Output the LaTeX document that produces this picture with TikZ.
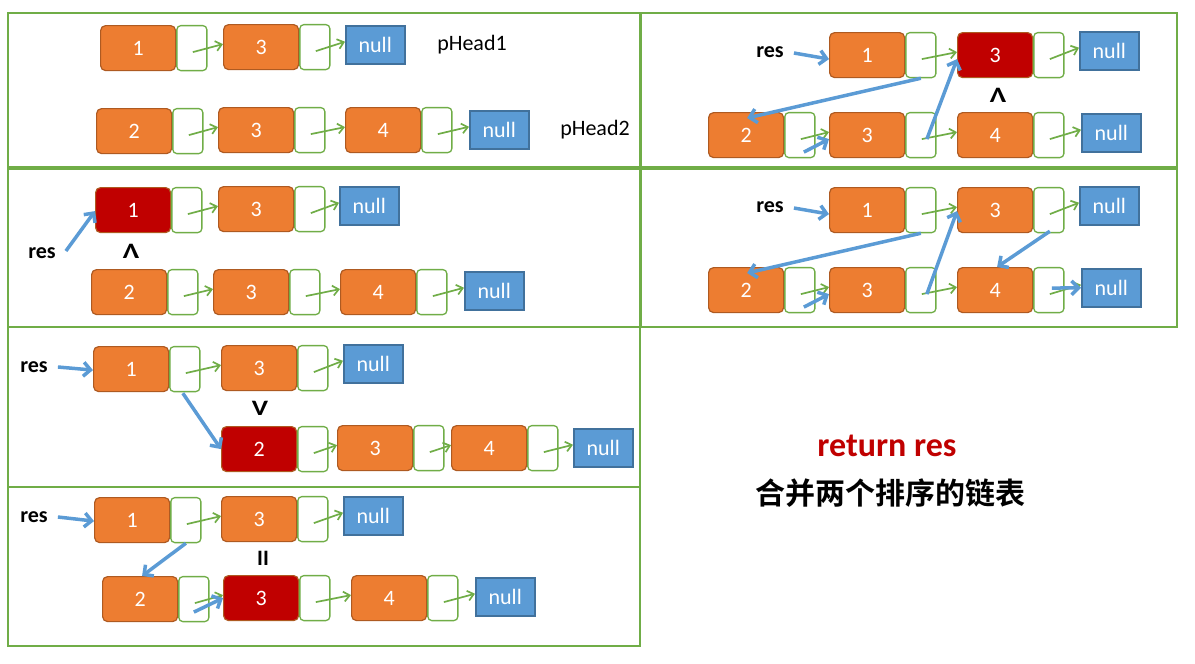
\documentclass[tikz,border=0pt]{standalone}
\usepackage{fontspec}
\setmainfont{Carlito}
\newfontfamily\cjk{Noto Sans CJK SC}[BoldFont={Noto Sans CJK SC Bold}]
\usetikzlibrary{arrows.meta,calc}
\definecolor{org}{HTML}{ED7D31}
\definecolor{orgd}{HTML}{AE5A21}
\definecolor{dred}{HTML}{C00000}
\definecolor{nblue}{HTML}{5B9BD5}
\definecolor{nblued}{HTML}{41719C}
\definecolor{grn}{HTML}{70AD47}
\tikzset{
 dat/.style={draw=orgd, fill=org, line width=1.2pt, rounded corners=5pt, minimum width=75pt, minimum height=45pt, inner sep=0pt, text=white, font=\fontsize{22}{22}\selectfont},
 datr/.style={dat, fill=dred},
 ptrbox/.style={draw=grn, fill=white, line width=1.3pt, rounded corners=4pt, minimum width=30pt, minimum height=45pt, inner sep=0pt},
 nullbox/.style={draw=nblued, fill=nblue, line width=1.5pt, minimum width=59pt, minimum height=38pt, inner sep=0pt, text=white, font=\fontsize{22}{22}\selectfont},
 garr/.style={draw=grn, line width=1.7pt, -{Straight Barb[length=6pt,width=10pt]}},
 barr/.style={draw=nblue, line width=3.5pt, -{Straight Barb[length=7pt,width=14pt]}},
 lbl/.style={font=\fontsize{22}{22}\selectfont, inner sep=0pt},
 reslbl/.style={font=\bfseries\fontsize{22}{22}\selectfont, inner sep=0pt},
 cmp/.style={font=\bfseries\fontsize{22}{22}\selectfont, inner sep=0pt},
 panel/.style={draw=grn, line width=2pt},
}
\newcommand\llcell[5]{\node[#5,anchor=north west] (#1) at (#2,#3) {#4}; \node[ptrbox,anchor=west] (#1p) at (#1.east) {};}
\newcommand\llnull[3]{\node[nullbox,anchor=north west] (#1) at (#2,#3) {null};}
\newcommand\glink[2]{\draw[garr] ($(#1p.center)+(1,4)$) -- ($(#2.west)+(0,-3)$);}
\begin{document}
\begin{tikzpicture}[x=1pt,y=-1pt]
\useasboundingbox (0,0) rectangle (1195,664);
% panels
\draw[panel] (8,13) rectangle (640,167);
\draw[panel] (641,13) rectangle (1177,167);
\draw[panel] (8,169) rectangle (640,327);
\draw[panel] (641,169) rectangle (1177,327);
\draw[panel] (8,327) rectangle (640,487);
\draw[panel] (8,487) rectangle (640,646);
% panel 1
\llcell{a1}{100}{25}{1}{dat}
\llcell{a3}{223}{24}{3}{dat}
\llnull{an}{345}{25}
\node[lbl] (ph1) at (472,45) {pHead1};
\llcell{b2}{96}{108}{2}{dat}
\llcell{b3}{218}{107}{3}{dat}
\llcell{b4}{345}{107}{4}{dat}
\llnull{bn}{469}{110}
\node[lbl] (ph2) at (595,130) {pHead2};
\glink{a1}{a3} \glink{a3}{an} \glink{b2}{b3} \glink{b3}{b4} \glink{b4}{bn}
% panel 2
\node[reslbl] (r2) at (770,52) {res};
\llcell{c1}{829}{32}{1}{dat}
\llcell{c3}{957}{32}{3}{datr}
\llnull{cn}{1079}{31}
\llcell{d2}{708}{112}{2}{dat}
\llcell{d3}{829}{112}{3}{dat}
\llcell{d4}{957}{112}{4}{dat}
\llnull{dn}{1081}{113}
\node[cmp,xscale=1.25] (q2) at (998,95) {Λ};
\glink{c1}{c3} \glink{c3}{cn} \glink{d2}{d3} \glink{d3}{d4} \glink{d4}{dn}
\draw[barr] ($(r2.east)+(10,1)$) -- ($(c1.west)+(0,4)$);
\draw[barr] (c1p.south) -- ($(d2.north)+(1,6)$);
\draw[barr] ($(d3p.center)+(6,4)$) -- ($(c3.west)+(0,4)$);
\draw[barr] ($(d2p.center)+(4,17)$) -- ($(d3.west)+(0,4)$);
% panel 3
\llcell{e1}{95}{187}{1}{datr}
\llcell{e3}{218}{186}{3}{dat}
\llnull{en}{339}{186}
\node[reslbl] (r3) at (42,253) {res};
\node[cmp,xscale=1.25] (q3) at (131,251) {Λ};
\llcell{f2}{91}{269}{2}{dat}
\llcell{f3}{213}{269}{3}{dat}
\llcell{f4}{340}{269}{4}{dat}
\llnull{fn}{464}{271}
\glink{e1}{e3} \glink{e3}{en} \glink{f2}{f3} \glink{f3}{f4} \glink{f4}{fn}
\draw[barr] ($(r3.east)+(10,-2)$) -- ($(e1.west)+(0,1)$);
% panel 4
\node[reslbl] (r4) at (770,207) {res};
\llcell{g1}{829}{187}{1}{dat}
\llcell{g3}{957}{187}{3}{dat}
\llnull{gn}{1079}{186}
\llcell{h2}{708}{267}{2}{dat}
\llcell{h3}{829}{267}{3}{dat}
\llcell{h4}{957}{267}{4}{dat}
\llnull{hn}{1081}{268}
\glink{g1}{g3} \glink{g3}{gn} \glink{h2}{h3} \glink{h3}{h4} \glink{h4}{hn}
\draw[barr] ($(r4.east)+(10,1)$) -- ($(g1.west)+(0,4)$);
\draw[barr] (g1p.south) -- ($(h2.north)+(1,6)$);
\draw[barr] ($(h3p.center)+(6,4)$) -- ($(g3.west)+(0,1)$);
\draw[barr] ($(h2p.center)+(4,17)$) -- ($(h3.west)+(0,4)$);
\draw[barr] ($(g3p.south)+(1,-2)$) -- ($(h4.north)+(2,0)$);
\draw[barr] ($(h4p.center)+(3,-2)$) -- (hn.west);
% panel 5
\node[reslbl] (r5) at (34,367) {res};
\llcell{i1}{93}{346}{1}{dat}
\llcell{i3}{221}{345}{3}{dat}
\llnull{inul}{343}{344}
\node[cmp,xscale=1.25] (q5) at (260,408) {V};
\llcell{j2}{221}{426}{2}{datr}
\llcell{j3}{337}{425}{3}{dat}
\llcell{j4}{451}{425}{4}{dat}
\llnull{jn}{573}{428}
\glink{i1}{i3} \glink{i3}{inul} \glink{j2}{j3} \glink{j3}{j4} \glink{j4}{jn}
\draw[barr] ($(r5.east)+(10,0)$) -- ($(i1.west)+(0,1)$);
\draw[barr] ($(i1p.south)+(-2,1)$) -- (j2.west);
% panel 6
\node[reslbl] (r6) at (34,517) {res};
\llcell{k1}{94}{497}{1}{dat}
\llcell{k3}{221}{496}{3}{dat}
\llnull{kn}{343}{496}
\node[cmp] (q6) at (263,558) {II};
\llcell{l2}{102}{576}{2}{dat}
\llcell{l3}{223}{575}{3}{datr}
\llcell{l4}{351}{575}{4}{dat}
\llnull{lnul}{475}{577}
\glink{k1}{k3} \glink{k3}{kn} \glink{l2}{l3} \glink{l3}{l4} \glink{l4}{lnul}
\draw[barr] ($(r6.east)+(10,0)$) -- ($(k1.west)+(0,1)$);
\draw[barr] (k1p.south) -- ($(l2.north)+(2,0)$);
\draw[barr] ($(l2p.center)+(0,13)$) -- (l3.west);
% text
\node[font=\bfseries\fontsize{34}{34}\selectfont, text=dred, inner sep=0pt] (ret) at (887,446) {return res};
\node[font=\cjk\bfseries\fontsize{30}{30}\selectfont, inner sep=0pt] (title) at (890,493) {合并两个排序的链表};
\end{tikzpicture}
\end{document}
